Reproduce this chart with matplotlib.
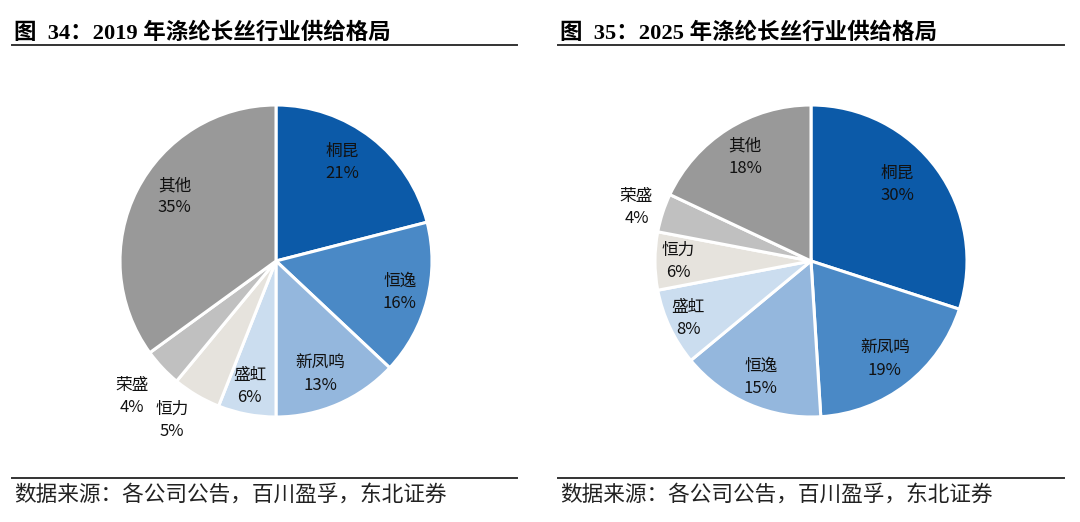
import matplotlib
matplotlib.use("Agg")
import matplotlib.pyplot as plt
from matplotlib.lines import Line2D
import numpy as np

plt.rcParams['font.family'] = ['Noto Sans CJK SC', 'DejaVu Sans']

# data
labels_2019 = ["桐昆", "恒逸", "新凤鸣", "盛虹", "恒力", "荣盛", "其他"]
values_2019 = [21, 16, 13, 6, 5, 4, 35]
labels_2025 = ["桐昆", "新凤鸣", "恒逸", "盛虹", "恒力", "荣盛", "其他"]
values_2025 = [30, 19, 15, 8, 6, 4, 18]

title_2019 = "图  34：2019 年涤纶长丝行业供给格局"
title_2025 = "图  35：2025 年涤纶长丝行业供给格局"
source = "数据来源：各公司公告，百川盈孚，东北证券"

colors = ["#0C5AA8", "#4A89C6", "#94B7DD", "#CBDDEF", "#E6E3DD", "#C0C0C0", "#999999"]

W, H = 1080, 522
fig = plt.figure(figsize=(W / 100, H / 100), dpi=100)


def px_axes(cx, cy, r):
    return fig.add_axes([(cx - r) / W, (H - cy - r) / H, 2 * r / W, 2 * r / H])


def draw_pie(cx, cy, r, labels, values, label_pos):
    ax = px_axes(cx, cy, r)
    wedges, _ = ax.pie(values, colors=colors, startangle=90, counterclock=False,
                       radius=1, wedgeprops=dict(edgecolor="white", linewidth=2.2))
    ax.set_xlim(-1, 1)
    ax.set_ylim(-1, 1)
    ax.axis("off")
    # label_pos: (radius fraction, angle offset in degrees) per wedge
    for w, lab, v, (lr, dth) in zip(wedges, labels, values, label_pos):
        ang = np.deg2rad((w.theta1 + w.theta2) / 2 + dth)
        ax.text(lr * np.cos(ang), lr * np.sin(ang), f"{lab}\n{v}%", ha="center",
                va="center", fontsize=12, linespacing=1.4, color="#111111",
                clip_on=False)
    return ax


draw_pie(276, 261, 156, labels_2019, values_2019,
         [(0.76, 4), (0.82, 0), (0.78, -2), (0.82, -1), (1.22, -2.6), (1.27, 0), (0.77, -5.4)])
draw_pie(811, 261, 156, labels_2025, values_2025,
         [(0.74, 5.8), (0.79, -1), (0.81, 0), (0.87, 0), (0.85, 0), (1.17, 1), (0.79, 0)])

# titles, rules and source text
for x0, x1, title in [(12, 517, title_2019), (558, 1064, title_2025)]:
    fig.text((x0 + 2) / W, 1 - 33 / H, title, fontsize=16.2, fontweight="bold",
             family=["Liberation Serif", "Noto Sans CJK SC"], va="center", ha="left")
    fig.add_artist(Line2D([x0 / W, x1 / W], [1 - 45 / H, 1 - 45 / H],
                          color="#333333", linewidth=1.4))
    fig.add_artist(Line2D([x0 / W, x1 / W], [1 - 478 / H, 1 - 478 / H],
                          color="#333333", linewidth=1.4))
    fig.text((x0 + 2) / W, 1 - 495 / H, source, fontsize=15.6, va="center", ha="left",
             color="#222222")

fig.savefig("out.png", dpi=100)
